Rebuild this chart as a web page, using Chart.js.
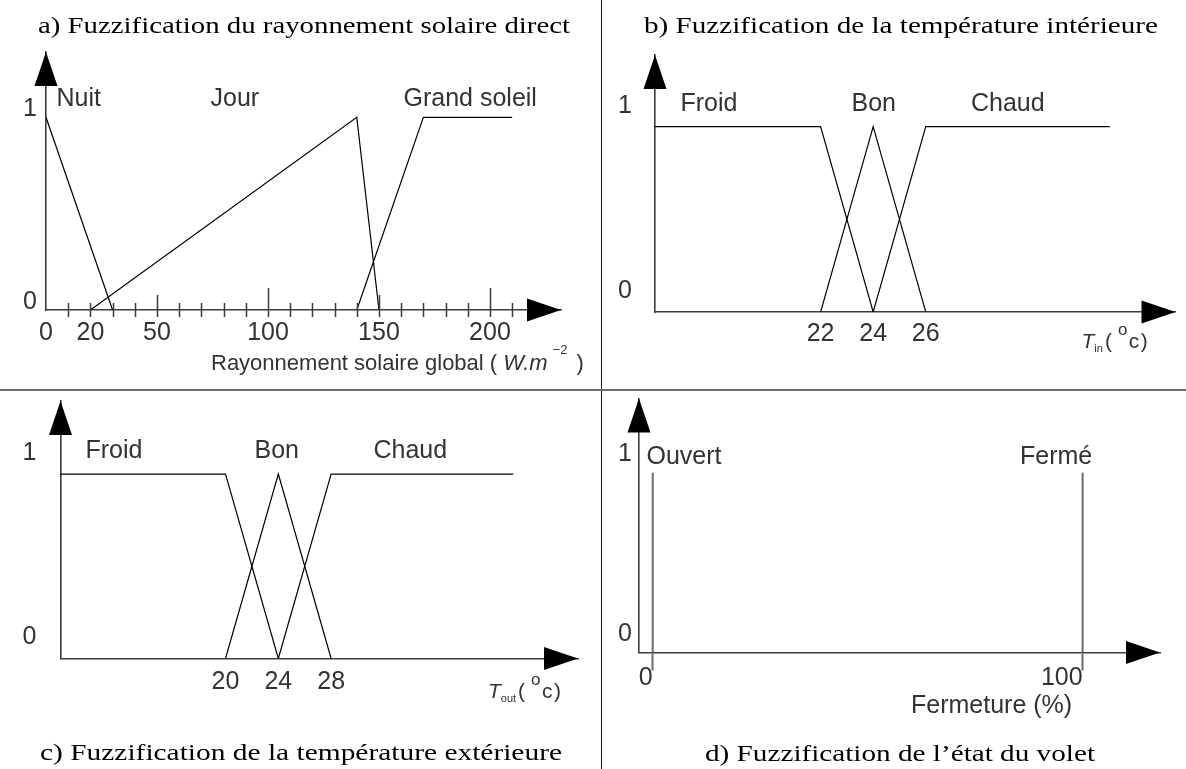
<!DOCTYPE html>
<html lang="fr">
<head>
<meta charset="utf-8">
<title>Fuzzification</title>
<script src="https://cdn.jsdelivr.net/npm/chart.js@4.4.1/dist/chart.umd.min.js"></script>
<style>
  html, body { margin: 0; padding: 0; background: #fff; }
  #page { position: relative; width: 1186px; height: 769px; overflow: hidden; }
  #page canvas { position: absolute; left: 0; top: 0; display: block; }
  .sep-v { position: absolute; left: 601px; top: 0; width: 1px; height: 769px; background: #111; }
  .sep-h { position: absolute; left: 0; top: 389px; width: 1186px; height: 2px; background: #6e6e6e; }
</style>
</head>
<body>
<div id="page">
  <canvas id="chartA" width="1186" height="769"></canvas>
  <canvas id="chartB" width="1186" height="769"></canvas>
  <canvas id="chartC" width="1186" height="769"></canvas>
  <canvas id="chartD" width="1186" height="769"></canvas>
  <div class="sep-v"></div>
  <div class="sep-h"></div>
</div>
<script>
///////////////// a) rayonnement solaire (W.m-2) /////////////////
const radNames = ['Nuit', 'Jour', 'Grand soleil'];
const nuitX = [0, 30];
const nuitY = [1, 0];
const jourX = [20, 140, 150];
const jourY = [0, 1, 0];
const soleilX = [140, 170, 210];
const soleilY = [0, 1, 1];
const radTickLabels = [0, 20, 50, 100, 150, 200];
const radTickMarks = [10, 20, 30, 40, 50, 60, 70, 80, 90, 100, 110, 120, 130, 140, 150, 160, 170, 180, 190, 200, 210];

///////////////// b) temperature interieure /////////////////
const tempNames = ['Froid', 'Bon', 'Chaud'];
const tinFroidX = [15.7, 22, 24];
const tinFroidY = [1, 1, 0];
const tinBonX = [22, 24, 26];
const tinBonY = [0, 1, 0];
const tinChaudX = [24, 26, 33];
const tinChaudY = [0, 1, 1];
const tinTickLabels = [22, 24, 26];

///////////////// c) temperature exterieure /////////////////
const toutFroidX = [7.5, 20, 24];
const toutFroidY = [1, 1, 0];
const toutBonX = [20, 24, 28];
const toutBonY = [0, 1, 0];
const toutChaudX = [24, 28, 41.8];
const toutChaudY = [0, 1, 1];
const toutTickLabels = [20, 24, 28];

///////////////// d) etat du volet /////////////////
const voletNames = ['Ouvert', 'Fermé'];
const ouvertX = [0, 0];
const ouvertY = [0, 1];
const fermeX = [100, 100];
const fermeY = [0, 1];
const voletTickLabels = [0, 100];

const membershipTicks = [0, 1];

//////////////////////////////////////////////////
const SANS = '"Liberation Sans", Arial, sans-serif';
const SERIF = '"Liberation Serif", "Times New Roman", serif';
const INK = '#333333';
const AXIS = '#3c3c3c';
const PAGE_W = 1186, PAGE_H = 769, X_AXIS_H = 60;

function toPoints(xs, ys) {
    return xs.map(function (x, i) { return { x: x, y: ys[i] }; });
}

function lineSet(label, xs, ys, color, width) {
    return {
        label: label,
        data: toPoints(xs, ys),
        showLine: true,
        borderColor: color || '#000',
        borderWidth: width || 1.2,
        pointRadius: 0,
        tension: 0,
        fill: false
    };
}

// text made of several pieces (italic, sub/superscript)
function drawRuns(ctx, x, y, runs) {
    runs.forEach(function (r) {
        ctx.font = r.font;
        x += r.gap || 0;
        ctx.fillText(r.text, x, y + (r.dy || 0));
        x += ctx.measureText(r.text).width;
    });
}

// serif caption, stretched to its column width
function drawCaption(ctx, t) {
    ctx.save();
    ctx.font = '23px ' + SERIF;
    ctx.fillStyle = '#000';
    ctx.textAlign = 'center';
    ctx.textBaseline = 'alphabetic';
    var w = ctx.measureText(t.text).width;
    ctx.translate(t.cx, t.y);
    ctx.scale(t.width / w, 1);
    ctx.fillText(t.text, 0, 0);
    ctx.restore();
}

// arrows, tick marks, set names, axis title and caption
function decor(cfg) {
    return {
        id: 'decor',
        afterDraw: function (chart) {
            var ctx = chart.ctx, a = chart.chartArea, xs = chart.scales.x;
            ctx.save();

            // arrow heads at the end of both axes
            ctx.fillStyle = '#000';
            ctx.beginPath();
            ctx.moveTo(a.left, a.top);
            ctx.lineTo(a.left - 11.5, a.top + 34);
            ctx.lineTo(a.left + 11.5, a.top + 34);
            ctx.closePath();
            ctx.moveTo(a.right, a.bottom);
            ctx.lineTo(a.right - 34, a.bottom - 11.5);
            ctx.lineTo(a.right - 34, a.bottom + 11.5);
            ctx.closePath();
            ctx.fill();

            // graduation
            if (cfg.marks) {
                ctx.strokeStyle = AXIS;
                ctx.lineWidth = 1.5;
                ctx.beginPath();
                cfg.marks.forEach(function (v) {
                    var px = Math.round(xs.getPixelForValue(v)) + 0.5;
                    var up = v % 100 === 0 ? 22 : (v % 50 === 0 ? 15 : 7);
                    ctx.moveTo(px, a.bottom - up);
                    ctx.lineTo(px, a.bottom + 7);
                });
                ctx.stroke();
            }

            // names of the fuzzy sets
            ctx.fillStyle = INK;
            ctx.font = '25px ' + SANS;
            ctx.textAlign = 'left';
            ctx.textBaseline = 'alphabetic';
            cfg.names.forEach(function (n, i) {
                ctx.fillText(n, cfg.namePos[i][0], cfg.namePos[i][1]);
            });

            // axis title
            drawRuns(ctx, cfg.axisTitle.x, cfg.axisTitle.y, cfg.axisTitle.runs);

            ctx.restore();
            drawCaption(ctx, cfg.caption);
        }
    };
}

function makeChart(id, p) {
    var tickFont = { family: SANS, size: 25 };
    return new Chart(document.getElementById(id), {
        type: 'scatter',
        data: { datasets: p.datasets },
        options: {
            responsive: false,
            animation: false,
            events: [],
            layout: {
                padding: {
                    left: 0,
                    top: p.area.top,
                    right: PAGE_W - p.area.right,
                    bottom: PAGE_H - p.area.bottom - X_AXIS_H
                }
            },
            plugins: { legend: { display: false }, tooltip: { enabled: false } },
            scales: {
                x: {
                    type: 'linear',
                    min: p.xMin,
                    max: p.xMax,
                    afterFit: function (s) { s.height = X_AXIS_H; },
                    afterBuildTicks: function (s) { s.ticks = p.xTicks.map(function (v) { return { value: v }; }); },
                    grid: p.xMarks ? {
                        display: true, drawOnChartArea: false, drawTicks: true,
                        tickLength: p.xMarks.length, tickColor: p.xMarks.color, tickWidth: p.xMarks.width
                    } : { display: false, drawTicks: false },
                    border: { display: true, color: AXIS, width: 1.6 },
                    ticks: {
                        autoSkip: false, maxRotation: 0, minRotation: 0,
                        padding: p.xPad, align: p.xAlign || 'center',
                        color: INK, font: tickFont,
                        callback: function (v) { return String(v); }
                    }
                },
                y: {
                    type: 'linear',
                    min: 0,
                    max: p.yMax,
                    afterFit: function (s) { s.width = p.area.left; },
                    afterBuildTicks: function (s) { s.ticks = membershipTicks.map(function (v) { return { value: v }; }); },
                    grid: { display: false, drawTicks: false },
                    border: { display: true, color: AXIS, width: 1.6 },
                    ticks: {
                        padding: p.yPad, labelOffset: p.yOffset,
                        color: INK, font: tickFont,
                        callback: function (v) { return String(v); }
                    }
                }
            }
        },
        plugins: [decor(p.decor)]
    });
}

////////////////// a) //////////////////
makeChart('chartA', {
    area: { left: 46, top: 52, right: 561, bottom: 310 },
    xMin: 0, xMax: 232, yMax: 1.339,
    xTicks: radTickLabels, xPad: 8, yPad: 9, yOffset: -8,
    datasets: [
        lineSet(radNames[0], nuitX, nuitY),
        lineSet(radNames[1], jourX, jourY),
        lineSet(radNames[2], soleilX, soleilY)
    ],
    decor: {
        marks: radTickMarks,
        names: radNames,
        namePos: [[56.5, 106], [210.5, 106], [403.5, 106]],
        axisTitle: {
            x: 211, y: 370,
            runs: [
                { text: 'Rayonnement solaire global ( ', font: '22px ' + SANS },
                { text: 'W.m', font: 'italic 22px ' + SANS },
                { text: '−2', font: '13px ' + SANS, dy: -16, gap: 5 },
                { text: ')', font: '22px ' + SANS, gap: 9 }
            ]
        },
        caption: { text: 'a) Fuzzification du rayonnement solaire direct', cx: 304, y: 33.3, width: 532 }
    }
});

////////////////// b) //////////////////
makeChart('chartB', {
    area: { left: 655, top: 55, right: 1175.5, bottom: 312 },
    xMin: 15.7, xMax: 35.5, yMax: 1.387,
    xTicks: tinTickLabels, xPad: 7.3, yPad: 23, yOffset: -21,
    datasets: [
        lineSet(tempNames[0], tinFroidX, tinFroidY),
        lineSet(tempNames[1], tinBonX, tinBonY),
        lineSet(tempNames[2], tinChaudX, tinChaudY)
    ],
    decor: {
        names: tempNames,
        namePos: [[680.5, 110.6], [851.5, 110.6], [971, 110.6]],
        axisTitle: {
            x: 1081.5, y: 348.3,
            runs: [
                { text: 'T', font: 'italic 21px ' + SANS },
                { text: 'in', font: '11px ' + SANS, dy: 3.5 },
                { text: '(', font: '21px ' + SANS, gap: 2 },
                { text: 'o', font: '17px ' + SANS, dy: -13, gap: 6 },
                { text: 'c', font: '21px ' + SANS, gap: 1.5 },
                { text: ')', font: '21px ' + SANS, gap: 1.5 }
            ]
        },
        caption: { text: 'b) Fuzzification de la température intérieure', cx: 901, y: 33.3, width: 514 }
    }
});

////////////////// c) //////////////////
makeChart('chartC', {
    area: { left: 60.5, top: 401, right: 578, bottom: 658.5 },
    xMin: 7.5, xMax: 46.7, yMax: 1.396,
    xTicks: toutTickLabels, xPad: 8.4, yPad: 24, yOffset: -21,
    datasets: [
        lineSet(tempNames[0], toutFroidX, toutFroidY),
        lineSet(tempNames[1], toutBonX, toutBonY),
        lineSet(tempNames[2], toutChaudX, toutChaudY)
    ],
    decor: {
        names: tempNames,
        namePos: [[85.5, 458.2], [254.5, 458.2], [373.5, 458.2]],
        axisTitle: {
            x: 488, y: 698.3,
            runs: [
                { text: 'T', font: 'italic 21px ' + SANS },
                { text: 'out', font: '11px ' + SANS, dy: 3.5 },
                { text: '(', font: '21px ' + SANS, gap: 2 },
                { text: 'o', font: '17px ' + SANS, dy: -13, gap: 6 },
                { text: 'c', font: '21px ' + SANS, gap: 1.5 },
                { text: ')', font: '21px ' + SANS, gap: 1.5 }
            ]
        },
        caption: { text: 'c) Fuzzification de la température extérieure', cx: 301, y: 759.5, width: 522 }
    }
});

////////////////// d) //////////////////
makeChart('chartD', {
    area: { left: 639, top: 398.5, right: 1160, bottom: 652.5 },
    xMin: -3.19, xMax: 118, yMax: 1.413,
    xTicks: voletTickLabels, xPad: -7, xAlign: 'end', yPad: 7, yOffset: -18.5,
    xMarks: { length: 18, color: '#6a6a6a', width: 2 },
    datasets: [
        lineSet(voletNames[0], ouvertX, ouvertY, '#6a6a6a', 2),
        lineSet(voletNames[1], fermeX, fermeY, '#6a6a6a', 2)
    ],
    decor: {
        names: voletNames,
        namePos: [[646.5, 463.9], [1020, 463.9]],
        axisTitle: {
            x: 911, y: 713,
            runs: [{ text: 'Fermeture (%)', font: '25px ' + SANS }]
        },
        caption: { text: 'd) Fuzzification de l’état du volet', cx: 900, y: 761, width: 390 }
    }
});
</script>
</body>
</html>
